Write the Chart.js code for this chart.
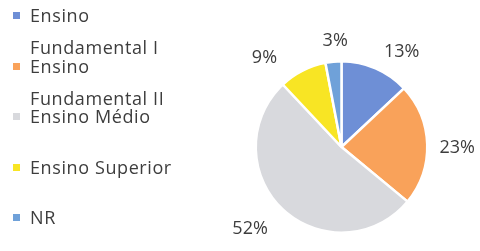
<!DOCTYPE html>
<html>
<head>
<meta charset="utf-8">
<script src="https://cdn.jsdelivr.net/npm/chart.js@4/dist/chart.umd.min.js"></script>
<style>
  html, body { margin: 0; padding: 0; background: #ffffff; }
  #wrap { position: relative; width: 480px; height: 251px; overflow: hidden; }
  #c { position: absolute; left: 0; top: 0; }
  #legend { position: absolute; left: 12px; top: -1px; width: 190px; margin: 0; padding: 0; list-style: none;
    font-family: "Open Sans", "Noto Sans", sans-serif; font-size: 18px; letter-spacing: 0.6px; color: #3d3d3d; }
  #legend li { position: relative; height: 50.5px; padding-left: 18px; line-height: 32px; }
  #legend li span.box { position: absolute; left: 1px; top: 13px; width: 7px; height: 7px; }
</style>
</head>
<body>
<div id="wrap">
  <canvas id="c" width="480" height="251"></canvas>
  <ul id="legend"></ul>
</div>
<script>
const categories = ["Ensino Fundamental I", "Ensino Fundamental II", "Ensino Médio", "Ensino Superior", "NR"];
const percentages = [13, 23, 52, 9, 3];
const sliceColors = ["#6E8FD6", "#F9A25A", "#D8D9DD", "#F8E524", "#6FA1D9"];
const legendLines = [["Ensino", "Fundamental I"], ["Ensino", "Fundamental II"], ["Ensino Médio"], ["Ensino Superior"], ["NR"]];

// HTML legend built from the data arrays
const ul = document.getElementById('legend');
categories.forEach((cat, i) => {
  const li = document.createElement('li');
  const box = document.createElement('span');
  box.className = 'box';
  box.style.background = sliceColors[i];
  li.appendChild(box);
  legendLines[i].forEach((ln, k) => {
    if (k > 0) li.appendChild(document.createElement('br'));
    li.appendChild(document.createTextNode(ln));
  });
  ul.appendChild(li);
});

// Outside percentage labels, positioned from each arc's geometry
const outsideLabels = {
  id: 'outsideLabels',
  afterDatasetsDraw(chart, args, opts) {
    const ctx = chart.ctx;
    const meta = chart.getDatasetMeta(0);
    ctx.save();
    ctx.font = opts.font;
    ctx.fillStyle = opts.color;
    ctx.textAlign = 'center';
    ctx.textBaseline = 'middle';
    meta.data.forEach((arc, i) => {
      const p = arc.getProps(['x', 'y', 'startAngle', 'endAngle', 'outerRadius'], true);
      const a = (p.startAngle + p.endAngle) / 2 + (opts.angleShift[i] || 0) * Math.PI / 180;
      const d = p.outerRadius * (opts.distance[i] || 1.3);
      const v = chart.data.datasets[0].data[i];
      ctx.fillText(v + '%', p.x + Math.cos(a) * d, p.y + Math.sin(a) * d);
    });
    ctx.restore();
  }
};

new Chart(document.getElementById('c'), {
  type: 'pie',
  data: {
    labels: categories,
    datasets: [{
      data: percentages,
      backgroundColor: sliceColors,
      borderColor: '#ffffff',
      borderWidth: 2.5
    }]
  },
  options: {
    responsive: false,
    animation: false,
    events: [],
    layout: { padding: { left: 254, right: 51, top: 60, bottom: 17 } },
    plugins: {
      legend: { display: false },
      tooltip: { enabled: false },
      title: { display: false },
      outsideLabels: {
        font: '18px "Open Sans", "Noto Sans", sans-serif',
        color: '#3d3d3d',
        angleShift: [9, 2, 5, -14, 2],
        distance: [1.31, 1.35, 1.43, 1.37, 1.24]
      }
    }
  },
  plugins: [outsideLabels]
});
</script>
</body>
</html>
